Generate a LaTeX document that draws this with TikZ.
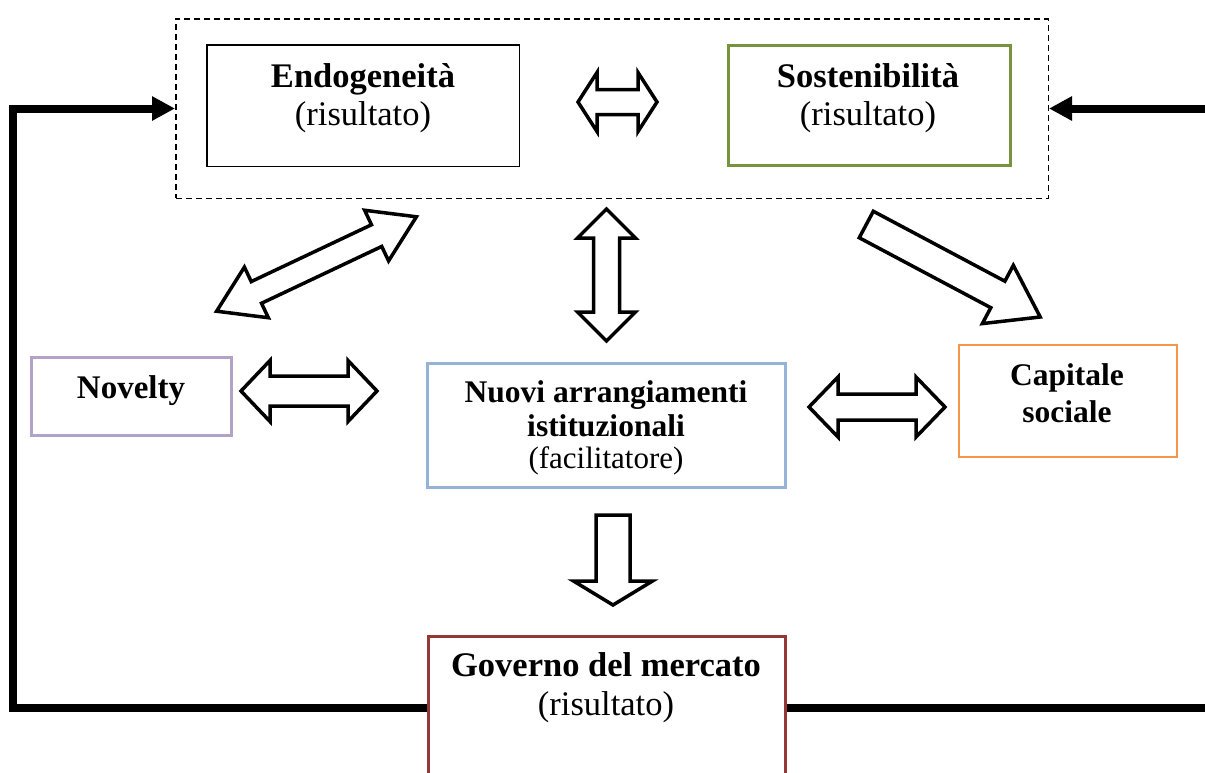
\documentclass[tikz,border=0pt]{standalone}
\usepackage{fontspec}
\setmainfont{Liberation Serif}
\usetikzlibrary{arrows.meta}
\definecolor{cgreen}{HTML}{77933C}
\definecolor{cpurple}{HTML}{B3A2C7}
\definecolor{cblue}{HTML}{95B3D7}
\definecolor{corange}{HTML}{F79646}
\definecolor{cred}{HTML}{953735}
% double block arrow: cx, cy, angle, length, half shaft, half head, head length
\newcommand\blockdbl[7]{%
\begin{scope}[shift={(#1,#2)},rotate=#3]
\draw[blockarrow] ({-#4/2},0) -- ({-#4/2+#7},{#6}) -- ({-#4/2+#7},{#5}) -- ({#4/2-#7},{#5}) -- ({#4/2-#7},{#6}) -- ({#4/2},0) -- ({#4/2-#7},{-#6}) -- ({#4/2-#7},{-#5}) -- ({-#4/2+#7},{-#5}) -- ({-#4/2+#7},{-#6}) -- cycle;
\end{scope}}
% single block arrow: cx, cy, angle, length, half shaft, half head, head length
\newcommand\blocksgl[7]{%
\begin{scope}[shift={(#1,#2)},rotate=#3]
\draw[blockarrow] ({-#4/2},{#5}) -- ({#4/2-#7},{#5}) -- ({#4/2-#7},{#6}) -- ({#4/2},0) -- ({#4/2-#7},{-#6}) -- ({#4/2-#7},{-#5}) -- ({-#4/2},{-#5}) -- cycle;
\end{scope}}
\begin{document}
\begin{tikzpicture}[x=1pt,y=-1pt,
  box/.style={draw,rectangle,inner sep=0pt},
  blockarrow/.style={draw=black,fill=white,line width=3.5pt,line join=miter},
  thickline/.style={line width=8pt,line join=miter},
  thickarrow/.style={line width=8pt,line join=miter,-{Triangle[length=23pt,width=23pt]}},
  txt/.style={inner sep=0pt,anchor=base},
  bigb/.style={txt,font=\fontsize{34.5}{38}\selectfont\bfseries},
  bigr/.style={txt,font=\fontsize{34.5}{38}\selectfont},
  midb/.style={txt,font=\fontsize{31.5}{34}\selectfont\bfseries},
  midr/.style={txt,font=\fontsize{31}{34}\selectfont}]
\useasboundingbox (0,0) rectangle (1205,772);
\clip (0,0) rectangle (1205,772);
\fill[white] (0,0) rectangle (1205,772);

% boxes
\node[box,line width=1.5pt,dash pattern=on 6pt off 4pt,minimum width=872.5pt,minimum height=179.5pt] (group) at (612,108.5) {};
\node[box,line width=1.5pt,minimum width=312.5pt,minimum height=121.5pt] (endo) at (363,105.5) {};
\node[box,draw=cgreen,line width=3pt,minimum width=282pt,minimum height=120pt] (sost) at (869.5,105.5) {};
\node[box,draw=cpurple,line width=3pt,minimum width=200pt,minimum height=78pt] (nov) at (131.5,396.5) {};
\node[box,draw=cblue,line width=3pt,minimum width=358pt,minimum height=124pt] (nuovi) at (606.5,425.5) {};
\node[box,draw=corange,line width=2pt,minimum width=218pt,minimum height=112pt] (cap) at (1068,401) {};
\node[box,draw=cred,line width=3pt,minimum width=357pt,minimum height=165pt] (gov) at (607,719) {};

% texts
\node[bigb] (endoT) at (363,87) {Endogeneità};
\node[bigr] (endoR) at (363,125) {(risultato)};
\node[bigb] (sostT) at (868,87) {Sostenibilità};
\node[bigr] (sostR) at (868,125) {(risultato)};
\node[txt,font=\fontsize{33}{36}\selectfont\bfseries] (novT) at (131,398) {Novelty};
\node[midb] (nuoviT1) at (606,402) {Nuovi arrangiamenti};
\node[midb] (nuoviT2) at (606,436) {istituzionali};
\node[midr] (nuoviR) at (606,468) {(facilitatore)};
\node[midb] (capT1) at (1067,385) {Capitale};
\node[midb] (capT2) at (1067,422) {sociale};
\node[bigb] (govT) at (606,676) {Governo del mercato};
\node[bigr] (govR) at (606,715) {(risultato)};

% thick feedback connectors
\coordinate (bl) at (13,708);
\coordinate (tl) at (13,108.5);
\coordinate (rbot) at (1212,708);
\coordinate (rtop) at (1212,108.5);
\draw[thickarrow] (gov.west |- bl) -- (bl) -- (tl) -- (group.west);
\draw[thickline] (gov.east |- rbot) -- (rbot);
\draw[thickarrow] (rtop) -- (group.east);

% block arrows
\blockdbl{617.5}{102}{0}{79}{12.5}{29.5}{19}
\blockdbl{309}{391}{0}{136}{15}{30.5}{29}
\blockdbl{877}{407}{0}{136}{13}{30}{29}
\blockdbl{316.5}{264}{25.3}{221}{12}{28}{44}
\blockdbl{606.5}{275}{90}{132}{13}{29}{29}
\blocksgl{613}{560}{-90}{90}{17}{39.5}{24}
\blocksgl{953.25}{270.75}{-28}{197}{15}{33}{48}
\end{tikzpicture}
\end{document}
